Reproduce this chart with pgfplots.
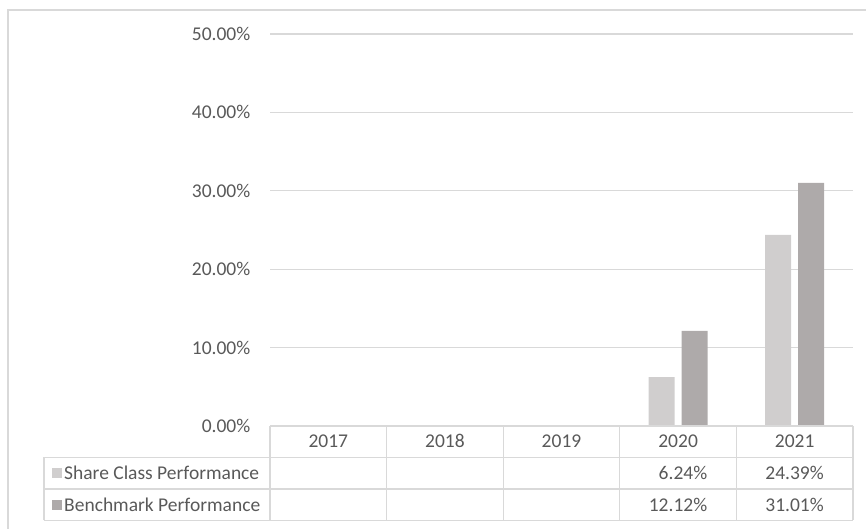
\documentclass[border=0pt]{standalone}
\usepackage{pgfplots}
\pgfplotsset{compat=1.18}
\usepackage{fontspec}
\setmainfont{Carlito}
\definecolor{txt}{HTML}{595959}
\definecolor{grd}{HTML}{D9D9D9}
\definecolor{lite}{HTML}{D0CECE}
\definecolor{dark}{HTML}{AEAAAA}
\newcommand{\ff}{\fontsize{19.5bp}{23bp}\selectfont}
\begin{document}
\ff
\begin{tikzpicture}[x=1bp,y=1bp]
\useasboundingbox (0,0) rectangle (866,529);
\draw[grd, line width=1.5bp] (8,0) -- (8,519) -- (866,519);
\begin{axis}[
  at={(270bp,103bp)}, anchor=south west,
  scale only axis, width=583bp, height=392bp,
  xmin=-0.5, xmax=4.5, ymin=0, ymax=50,
  axis line style={draw=none},
  ytick={0,10,20,30,40,50},
  yticklabels={0.00\%,10.00\%,20.00\%,30.00\%,40.00\%,50.00\%},
  xtick={0,1,2,3,4},
  xticklabels={2017,2018,2019,2020,2021},
  major tick length=0pt,
  ymajorgrids, grid style={grd, line width=1.2bp},
  every tick label/.append style={font=\ff, text=txt},
  yticklabel style={anchor=east, xshift=-13bp},
  xticklabel style={anchor=center, yshift=-15bp},
  clip=false,
]
\addplot[ybar, bar width=26bp, bar shift=-16.5bp, fill=lite, draw=none] coordinates {(3,6.24) (4,24.39)};
\addplot[ybar, bar width=26bp, bar shift=16.5bp, fill=dark, draw=none] coordinates {(3,12.12) (4,31.01)};
\node[anchor=east, text=txt, font=\ff, inner sep=0pt] at (axis cs:3.5,0) [xshift=-29bp, yshift=-47bp] {6.24\%};
\node[anchor=east, text=txt, font=\ff, inner sep=0pt] at (axis cs:4.5,0) [xshift=-29bp, yshift=-47bp] {24.39\%};
\node[anchor=east, text=txt, font=\ff, inner sep=0pt] at (axis cs:3.5,0) [xshift=-29bp, yshift=-79bp] {12.12\%};
\node[anchor=east, text=txt, font=\ff, inner sep=0pt] at (axis cs:4.5,0) [xshift=-29bp, yshift=-79bp] {31.01\%};
\end{axis}
% data table grid
\begin{scope}[grd, line width=1.2bp]
\draw (270,103) -- (853,103);
\draw (44,71.5) -- (853,71.5);
\draw (44,40) -- (853,40);
\draw (44,8.5) -- (853,8.5);
\draw (44,8.5) -- (44,71.5);
\foreach \x in {270,386.6,503.2,619.8,736.4,853} {\draw (\x,8.5) -- (\x,103);}
\end{scope}
\fill[lite] (52,51) rectangle (62,61);
\fill[dark] (52,19) rectangle (62,29);
\node[anchor=west, text=txt, inner sep=0pt] at (64,56) {Share Class Performance};
\node[anchor=west, text=txt, inner sep=0pt] at (64,24) {Benchmark Performance};
\end{tikzpicture}
\end{document}
